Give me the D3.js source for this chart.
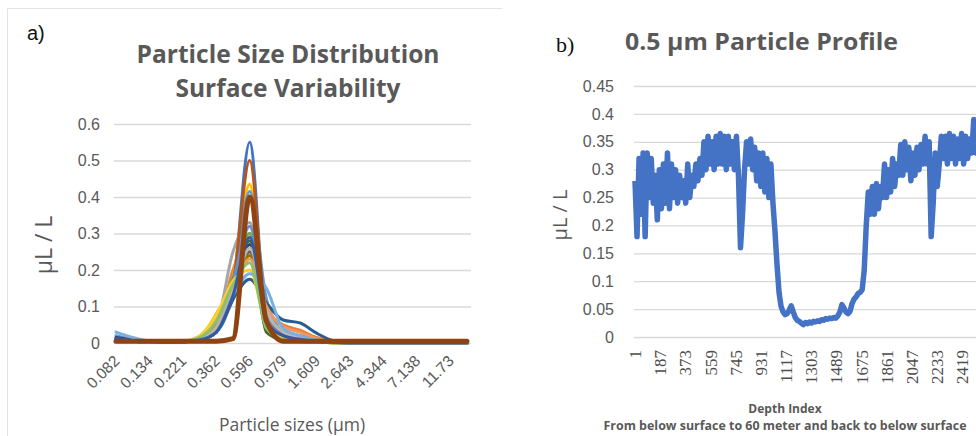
<!DOCTYPE html>
<html>
<head>
<meta charset="utf-8">
<script src="https://cdn.jsdelivr.net/npm/d3@7"></script>
<style>
  body { margin: 0; background: #fff; }
  svg { display: block; font-family: "Open Sans", sans-serif; }
</style>
</head>
<body>
<svg id="chart" width="976" height="436"></svg>
<script>
// ---------- panel a) particle size distribution ----------
const sizeBins = ["0.082","0.105","0.134","0.172","0.221","0.283","0.362","0.464","0.596","0.764","0.979",
  "1.255","1.609","2.063","2.643","3.389","4.344","5.569","7.138","9.149","11.73","15.04"];
const sizeLabels = ["0.082","0.134","0.221","0.362","0.596","0.979","1.609","2.643","4.344","7.138","11.73"];
const sizeTicks = [0, 0.1, 0.2, 0.3, 0.4, 0.5, 0.6];

const sampleColors = ["#4472C4","#ED7D31","#A5A5A5","#FFC000","#5B9BD5","#70AD47","#264478","#B5561A",
  "#636363","#997300","#255E91","#43682B","#698ED0","#F1975A","#B7B7B7","#FFCD33","#7CAFDD","#8CC168",
  "#335AA1","#8E4310"];

const samples = [
  [0.010,0.006,0.003,0.002,0.003,0.008,0.030,0.150,0.550,0.060,0.015,0.008,0.004,0.002,0,0,0,0,0,0,0,0],
  [0.008,0.005,0.003,0.002,0.003,0.010,0.040,0.200,0.300,0.090,0.050,0.035,0.015,0.005,0,0,0,0,0,0,0,0],
  [0.012,0.007,0.004,0.002,0.003,0.012,0.050,0.250,0.330,0.070,0.020,0.010,0.005,0.002,0,0,0,0,0,0,0,0],
  [0.010,0.006,0.003,0.002,0.004,0.018,0.080,0.180,0.435,0.040,0.010,0.005,0.003,0.001,0,0,0,0,0,0,0,0],
  [0.020,0.010,0.004,0.002,0.003,0.010,0.040,0.160,0.415,0.120,0.030,0.015,0.006,0.002,0,0,0,0,0,0,0,0],
  [0.008,0.005,0.003,0.002,0.004,0.015,0.060,0.180,0.300,0.050,0.015,0.007,0.003,0.001,0,0,0,0,0,0,0,0],
  [0.015,0.008,0.004,0.002,0.003,0.008,0.030,0.140,0.270,0.080,0.030,0.020,0.008,0.003,0,0,0,0,0,0,0,0],
  [0.008,0.005,0.003,0.002,0.003,0.010,0.040,0.160,0.500,0.070,0.025,0.012,0.005,0.002,0,0,0,0,0,0,0,0],
  [0.008,0.005,0.003,0.002,0.003,0.008,0.030,0.120,0.250,0.060,0.020,0.010,0.004,0.002,0,0,0,0,0,0,0,0],
  [0.008,0.005,0.003,0.002,0.003,0.010,0.035,0.130,0.240,0.060,0.020,0.010,0.004,0.002,0,0,0,0,0,0,0,0],
  [0.012,0.007,0.004,0.002,0.003,0.008,0.030,0.120,0.175,0.110,0.063,0.055,0.027,0.006,0,0,0,0,0,0,0,0],
  [0.008,0.005,0.003,0.002,0.004,0.014,0.055,0.170,0.280,0.030,0.008,0.004,0.002,0.001,0,0,0,0,0,0,0,0],
  [0.010,0.006,0.003,0.002,0.003,0.010,0.040,0.170,0.320,0.070,0.020,0.010,0.004,0.002,0,0,0,0,0,0,0,0],
  [0.008,0.005,0.003,0.002,0.004,0.012,0.045,0.150,0.230,0.100,0.045,0.030,0.012,0.004,0,0,0,0,0,0,0,0],
  [0.010,0.006,0.003,0.002,0.003,0.010,0.040,0.140,0.260,0.090,0.030,0.015,0.006,0.002,0,0,0,0,0,0,0,0],
  [0.008,0.005,0.003,0.002,0.005,0.020,0.075,0.170,0.200,0.050,0.012,0.005,0.002,0.001,0,0,0,0,0,0,0,0],
  [0.030,0.015,0.005,0.002,0.003,0.008,0.030,0.130,0.190,0.150,0.040,0.020,0.008,0.003,0,0,0,0,0,0,0,0],
  [0.008,0.005,0.003,0.002,0.004,0.015,0.060,0.160,0.220,0.040,0.010,0.005,0.002,0.001,0,0,0,0,0,0,0,0],
  [0.012,0.007,0.004,0.002,0.003,0.008,0.030,0.130,0.290,0.060,0.020,0.010,0.004,0.002,0,0,0,0,0,0,0,0],
  [0.005,0.005,0.005,0.005,0.005,0.005,0.005,0.012,0.400,0.060,0.005,0.005,0.005,0.005,0.005,0.005,0.005,0.005,0.005,0.005,0.005,0.005]
];

// ---------- panel b) 0.5 um particle profile ----------
const profileStep = 15;   // one reading per 15 depth indices, starting at index 1
const profileValues = [
  0.28,0.18,0.32,0.22,0.33,0.18,0.33,0.25,0.32,0.24,
  0.29,0.21,0.30,0.23,0.31,0.24,0.33,0.23,0.31,0.25,
  0.30,0.24,0.29,0.25,0.28,0.24,0.31,0.25,0.29,0.27,
  0.31,0.28,0.32,0.29,0.35,0.30,0.36,0.31,0.35,0.30,
  0.36,0.31,0.365,0.31,0.36,0.30,0.36,0.31,0.35,0.30,
  0.36,0.29,0.16,0.22,0.30,0.35,0.31,0.355,0.30,0.34,
  0.28,0.33,0.27,0.33,0.26,0.32,0.25,0.31,0.24,0.19,
  0.13,0.08,0.055,0.045,0.04,0.042,0.048,0.056,0.045,0.035,
  0.03,0.028,0.025,0.022,0.026,0.024,0.027,0.025,0.028,0.027,
  0.029,0.028,0.031,0.03,0.033,0.032,0.034,0.033,0.035,0.034,
  0.038,0.045,0.058,0.052,0.045,0.042,0.046,0.06,0.068,0.072,
  0.078,0.08,0.085,0.12,0.20,0.26,0.22,0.27,0.22,0.275,
  0.23,0.27,0.25,0.31,0.25,0.30,0.26,0.32,0.27,0.31,
  0.29,0.345,0.29,0.35,0.30,0.34,0.28,0.33,0.29,0.34,
  0.30,0.345,0.31,0.36,0.31,0.35,0.18,0.24,0.33,0.27,
  0.31,0.36,0.32,0.36,0.31,0.365,0.32,0.36,0.31,0.355,
  0.32,0.365,0.31,0.36,0.32,0.355,0.33,0.39,0.33,0.36
];
const profileTicks = [0, 0.05, 0.1, 0.15, 0.2, 0.25, 0.3, 0.35, 0.4, 0.45];
const depthLabels = [1, 187, 373, 559, 745, 931, 1117, 1303, 1489, 1675, 1861, 2047, 2233, 2419];

const svg = d3.select("#chart");
const textGray = "#595959";
const gridGray = "#d9d9d9";

svg.append("rect").attr("width", 976).attr("height", 436).attr("fill", "#fff");

// thin frame of panel a
svg.append("path")
  .attr("d", "M7.5,436 V8.5 H502")
  .attr("fill", "none")
  .attr("stroke", "#e3e3e3");

// ================= panel a =================
const xA = d3.scalePoint().domain(sizeBins).range([116, 467]);
const yA = d3.scaleLinear().domain([0, 0.6]).range([343, 124]);

const gridA = svg.append("g")
  .attr("transform", "translate(114,0)")
  .call(d3.axisLeft(yA).tickValues(sizeTicks).tickSize(-357).tickPadding(14)
    .tickFormat(d => d === 0 ? "0" : d3.format(".1f")(d)));
gridA.select(".domain").remove();
gridA.selectAll("line").attr("stroke", gridGray).attr("stroke-width", 1.3);
gridA.selectAll("text").attr("fill", textGray).style("font-size", "16px");

const axA = svg.append("g")
  .attr("transform", "translate(0,343)")
  .call(d3.axisBottom(xA).tickValues(sizeLabels).tickSize(0));
axA.select(".domain").remove();
axA.selectAll("text")
  .attr("fill", textGray)
  .style("font-size", "15.5px")
  .style("text-anchor", "end")
  .attr("y", 0).attr("dy", 0)
  .attr("transform", "translate(4,19) rotate(-45)");

const lineA = d3.line()
  .x((d, i) => xA(sizeBins[i]))
  .y(d => yA(d))
  .curve(d3.curveMonotoneX);

svg.append("g")
  .selectAll("path")
  .data(samples)
  .join("path")
  .attr("d", lineA)
  .attr("fill", "none")
  .attr("stroke", (d, i) => sampleColors[i])
  .attr("stroke-width", (d, i) => i === samples.length - 1 ? 5 : 3)
  .attr("stroke-linejoin", "round")
  .attr("stroke-linecap", "round");

svg.append("text")
  .attr("x", 27).attr("y", 40)
  .style("font-family", "'Liberation Sans', sans-serif")
  .style("font-size", "20px")
  .attr("fill", "#111")
  .text("a)");

svg.append("text")
  .attr("x", 288).attr("y", 63)
  .attr("text-anchor", "middle")
  .attr("fill", textGray)
  .style("font-size", "25px").style("font-weight", "bold")
  .attr("textLength", 303).attr("lengthAdjust", "spacingAndGlyphs")
  .text("Particle Size Distribution");

svg.append("text")
  .attr("x", 288).attr("y", 97)
  .attr("text-anchor", "middle")
  .attr("fill", textGray)
  .style("font-size", "25px").style("font-weight", "bold")
  .attr("textLength", 225).attr("lengthAdjust", "spacingAndGlyphs")
  .text("Surface Variability");

svg.append("text")
  .attr("transform", "translate(52,245) rotate(-90)")
  .attr("text-anchor", "middle")
  .attr("fill", textGray)
  .style("font-size", "23px")
  .text("µL / L");

svg.append("text")
  .attr("x", 292).attr("y", 431)
  .attr("text-anchor", "middle")
  .attr("fill", textGray)
  .style("font-size", "17.5px")
  .text("Particle sizes (µm)");

// ================= panel b =================
const xB = d3.scaleLinear().domain([1, 2419]).range([635, 962]);
const yB = d3.scaleLinear().domain([0, 0.45]).range([337, 86]);

const gridB = svg.append("g")
  .attr("transform", "translate(634,0)")
  .call(d3.axisLeft(yB).tickValues(profileTicks).tickSize(-360).tickPadding(20)
    .tickFormat(d => String(+d.toFixed(2))));
gridB.select(".domain").remove();
gridB.selectAll("line").attr("stroke", gridGray).attr("stroke-width", 1.3);
gridB.selectAll("text").attr("fill", textGray).style("font-size", "16px");

const axB = svg.append("g")
  .attr("transform", "translate(0,337)")
  .call(d3.axisBottom(xB).tickValues(depthLabels).tickSize(0).tickFormat(d3.format("d")));
axB.select(".domain").remove();
axB.selectAll("text")
  .attr("fill", "#4d4d4d")
  .style("font-family", "'Liberation Serif', serif")
  .style("font-size", "17px")
  .style("text-anchor", "end")
  .attr("x", -13).attr("y", 0).attr("dy", "0.33em")
  .attr("transform", "rotate(-90)");

const lineB = d3.line()
  .x((d, i) => xB(1 + i * profileStep))
  .y(d => yB(d));

svg.append("path")
  .datum(profileValues)
  .attr("d", lineB)
  .attr("fill", "none")
  .attr("stroke", "#4472C4")
  .attr("stroke-width", 5.5)
  .attr("stroke-linejoin", "round");

svg.append("text")
  .attr("x", 556).attr("y", 52)
  .style("font-family", "'Liberation Serif', serif")
  .style("font-size", "22px")
  .attr("fill", "#111")
  .text("b)");

svg.append("text")
  .attr("x", 625).attr("y", 50)
  .attr("fill", textGray)
  .style("font-size", "23px").style("font-weight", "bold")
  .attr("textLength", 273).attr("lengthAdjust", "spacingAndGlyphs")
  .text("0.5 µm Particle Profile");

svg.append("text")
  .attr("transform", "translate(567,215) rotate(-90)")
  .attr("text-anchor", "middle")
  .attr("fill", textGray)
  .style("font-size", "20px")
  .text("µL / L");

svg.append("text")
  .attr("x", 785).attr("y", 413)
  .attr("text-anchor", "middle")
  .attr("fill", textGray)
  .style("font-size", "12px").style("font-weight", "bold")
  .text("Depth Index");

svg.append("text")
  .attr("x", 785).attr("y", 430)
  .attr("text-anchor", "middle")
  .attr("fill", textGray)
  .style("font-size", "11.5px").style("font-weight", "bold")
  .attr("textLength", 363).attr("lengthAdjust", "spacingAndGlyphs")
  .text("From below surface to 60 meter and back to below surface");
</script>
</body>
</html>
